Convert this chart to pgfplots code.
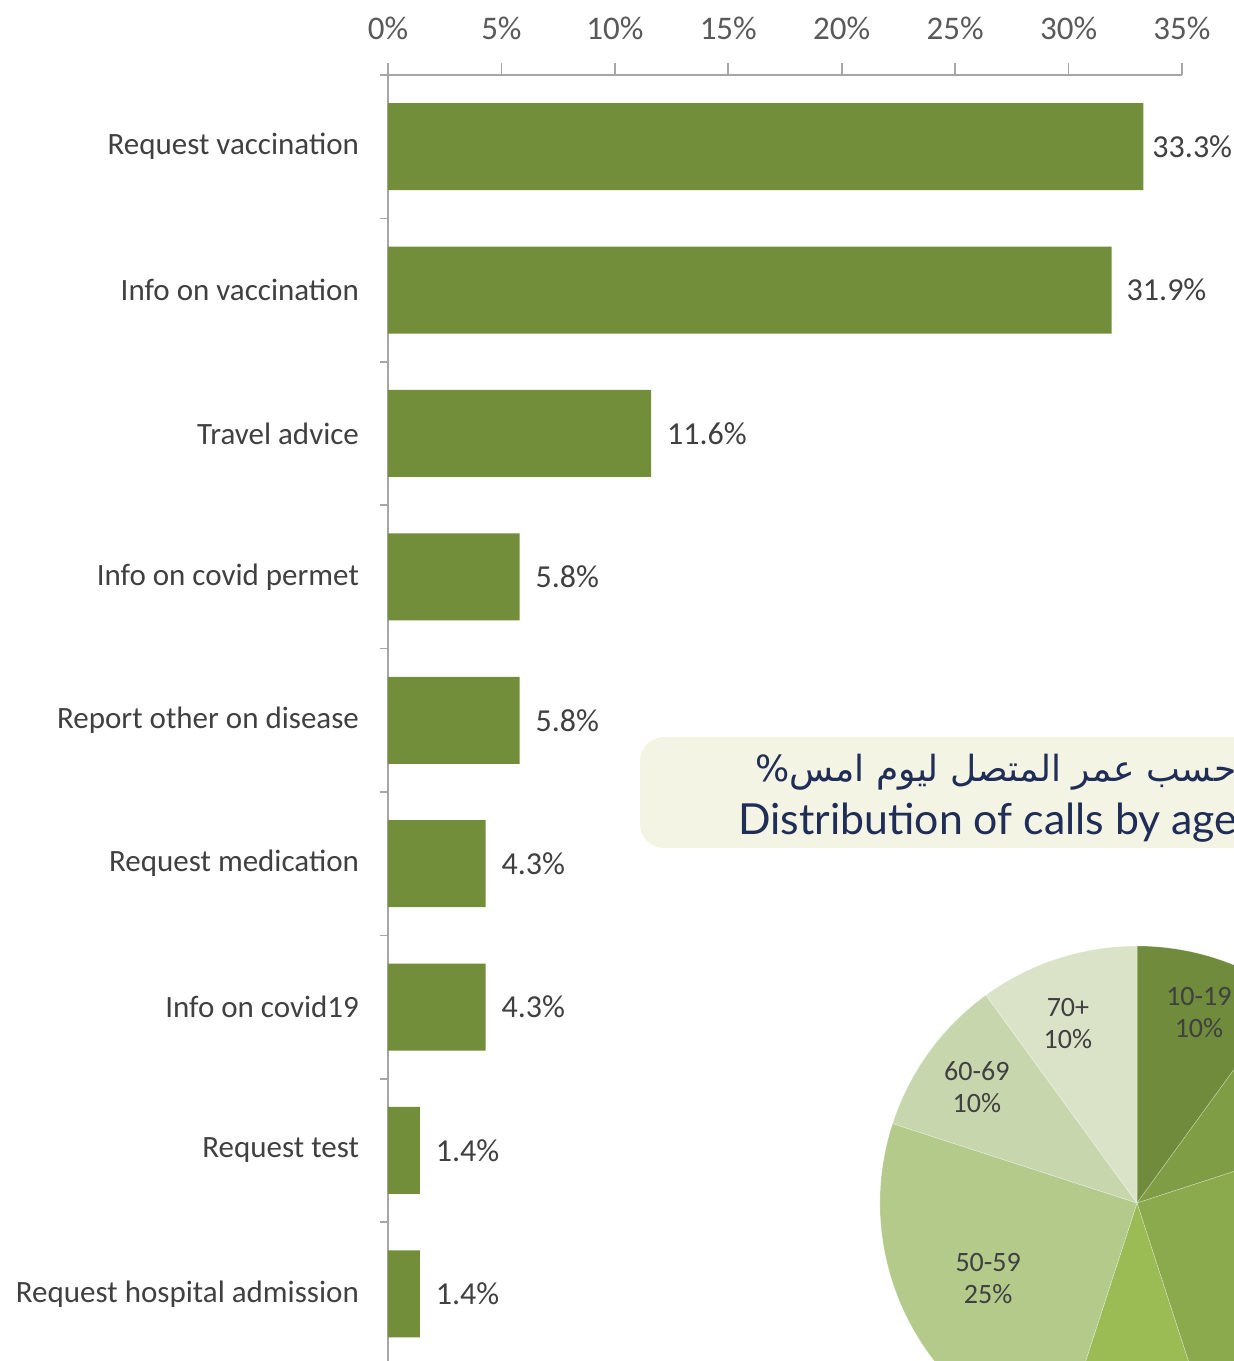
\documentclass[border=0pt]{standalone}
\usepackage{pgfplots}
\usepackage{pgfplotstable}
\pgfplotsset{compat=1.18}
\usepackage{fontspec}
\setmainfont{Carlito}
\newfontfamily\titlefont{Lato}
\newfontfamily\arabicfont[Script=Arabic]{DejaVu Sans}
\TeXXeTstate=1
\definecolor{bargreen}{HTML}{738E3A}
\definecolor{axgray}{HTML}{A6A6A6}
\definecolor{txtgray}{HTML}{404040}
\definecolor{tickgray}{HTML}{595959}
\definecolor{cream}{HTML}{F3F4E4}
\definecolor{navy}{HTML}{1F2D57}
\definecolor{pA}{HTML}{6F8B3B}
\definecolor{pB}{HTML}{7E9D45}
\definecolor{pC}{HTML}{8BAA4D}
\definecolor{pD}{HTML}{9BBB55}
\definecolor{pE}{HTML}{B4CA8B}
\definecolor{pF}{HTML}{C8D6AE}
\definecolor{pG}{HTML}{DAE3C8}
% pct = share of calls, pos = row (0 = bottom), shift = label gap (pt)
\pgfplotstableread{
pct  pos shift
33.3 8   1
31.9 7   4
11.6 6   4.5
5.8  5   4.5
5.8  4   4.5
4.3  3   4.5
4.3  2   4.5
1.4  1   4.5
1.4  0   4.5
}\calls
\begin{document}
\begin{tikzpicture}
\useasboundingbox (0pt,0pt) rectangle (617pt,680.5pt);
\clip (0pt,0pt) rectangle (617pt,680.5pt);
% ---------- bar chart ----------
\begin{axis}[
  at={(194pt,643pt)}, anchor=north west,
  scale only axis, width=397pt, height=645.3pt,
  xbar, bar width=43.5pt, bar shift=0pt,
  xmin=0, xmax=35, ymin=-0.5, ymax=8.5,
  axis x line*=top, axis y line*=left,
  axis line style={axgray, line width=0.8pt},
  tick align=outside,
  major tick length=6pt, minor tick length=4pt,
  tick style={axgray, line width=0.8pt},
  xtick={0,5,...,35},
  xticklabels={0\%,5\%,10\%,15\%,20\%,25\%,30\%,35\%},
  xticklabel style={font=\fontsize{16.5}{19}\selectfont, text=tickgray, yshift=8pt},
  ytick={0,...,8},
  yticklabels={Request hospital admission,Request test,Info on covid19,Request medication,Report other on disease,Info on covid permet,Travel advice,Info on vaccination,Request vaccination},
  yticklabel style={font=\fontsize{15.5}{18}\selectfont, text=txtgray, xshift=-5pt},
  major y tick style={draw=none},
  minor ytick={-0.5,0.5,...,8.5},
  point meta=x,
  /pgf/number format/assume math mode=true,
  visualization depends on={\thisrow{shift} \as \lblshift},
  nodes near coords={\pgfmathprintnumber[fixed,precision=1,fixed zerofill,assume math mode=true]{\pgfplotspointmeta}\%},
  every node near coord/.append style={anchor=west, font=\fontsize{16}{19}\selectfont, text=txtgray, xshift=\lblshift pt},
  clip=false,
]
\addplot[fill=bargreen, draw=none] table[x=pct, y=pos] {\calls};
\end{axis}
% ---------- title box ----------
\fill[cream, rounded corners=12pt] (320pt,256.5pt) rectangle (660pt,312pt);
\node[anchor=base west, inner sep=0pt, text=navy] at (377.5pt,289.5pt)
  {\arabicfont\fontsize{18}{21}\selectfont\beginR توزيع المكالمات حسب عمر المتصل ليوم امس\%\endR};
\node[anchor=base west, inner sep=0pt, text=navy] at (369pt,263pt)
  {\titlefont\fontsize{21.4}{25}\selectfont Distribution of calls by age group};
% ---------- pie (age distribution: 10,10,25,10,25,10,10 %) ----------
\begin{axis}[
  at={(568.5pt,79pt)}, anchor=center,
  scale only axis, width=257pt, height=257pt,
  xmin=-1, xmax=1, ymin=-1, ymax=1, hide axis, clip=false,
]
\tikzset{sl/.style={draw=white, draw opacity=0.35, line width=0.3pt}}
\fill[pA, sl] (axis cs:0,0) -- (axis cs:{cos(90)},{sin(90)}) arc[start angle=90, end angle=54, radius=128.5pt] -- cycle;
\fill[pB, sl] (axis cs:0,0) -- (axis cs:{cos(54)},{sin(54)}) arc[start angle=54, end angle=18, radius=128.5pt] -- cycle;
\fill[pC, sl] (axis cs:0,0) -- (axis cs:{cos(18)},{sin(18)}) arc[start angle=18, end angle=-72, radius=128.5pt] -- cycle;
\fill[pD, sl] (axis cs:0,0) -- (axis cs:{cos(-72)},{sin(-72)}) arc[start angle=-72, end angle=-108, radius=128.5pt] -- cycle;
\fill[pE, sl] (axis cs:0,0) -- (axis cs:{cos(-108)},{sin(-108)}) arc[start angle=-108, end angle=-198, radius=128.5pt] -- cycle;
\fill[pF, sl] (axis cs:0,0) -- (axis cs:{cos(162)},{sin(162)}) arc[start angle=162, end angle=126, radius=128.5pt] -- cycle;
\fill[pG, sl] (axis cs:0,0) -- (axis cs:{cos(126)},{sin(126)}) arc[start angle=126, end angle=90, radius=128.5pt] -- cycle;
\tikzset{pl/.style={align=center, font=\fontsize{14}{16}\selectfont, text=txtgray, inner sep=0pt}}
\node[pl] at (axis cs:{0.78*cos(72)},{0.78*sin(72)}) {10-19\\10\%};
\node[pl] at (axis cs:{0.78*cos(36)},{0.78*sin(36)}) {20-29\\10\%};
\node[pl] at (axis cs:{0.7*cos(-27)},{0.7*sin(-27)}) {30-39\\25\%};
\node[pl] at (axis cs:{0.78*cos(-90)},{0.78*sin(-90)}) {40-49\\10\%};
\node[pl] at (axis cs:{0.65*cos(207)},{0.65*sin(207)}) {50-59\\25\%};
\node[pl] at (axis cs:{0.77*cos(144)},{0.77*sin(144)}) {60-69\\10\%};
\node[pl] at (axis cs:{0.75*cos(111)},{0.75*sin(111)}) {70+\\10\%};
\end{axis}
\end{tikzpicture}
\end{document}
